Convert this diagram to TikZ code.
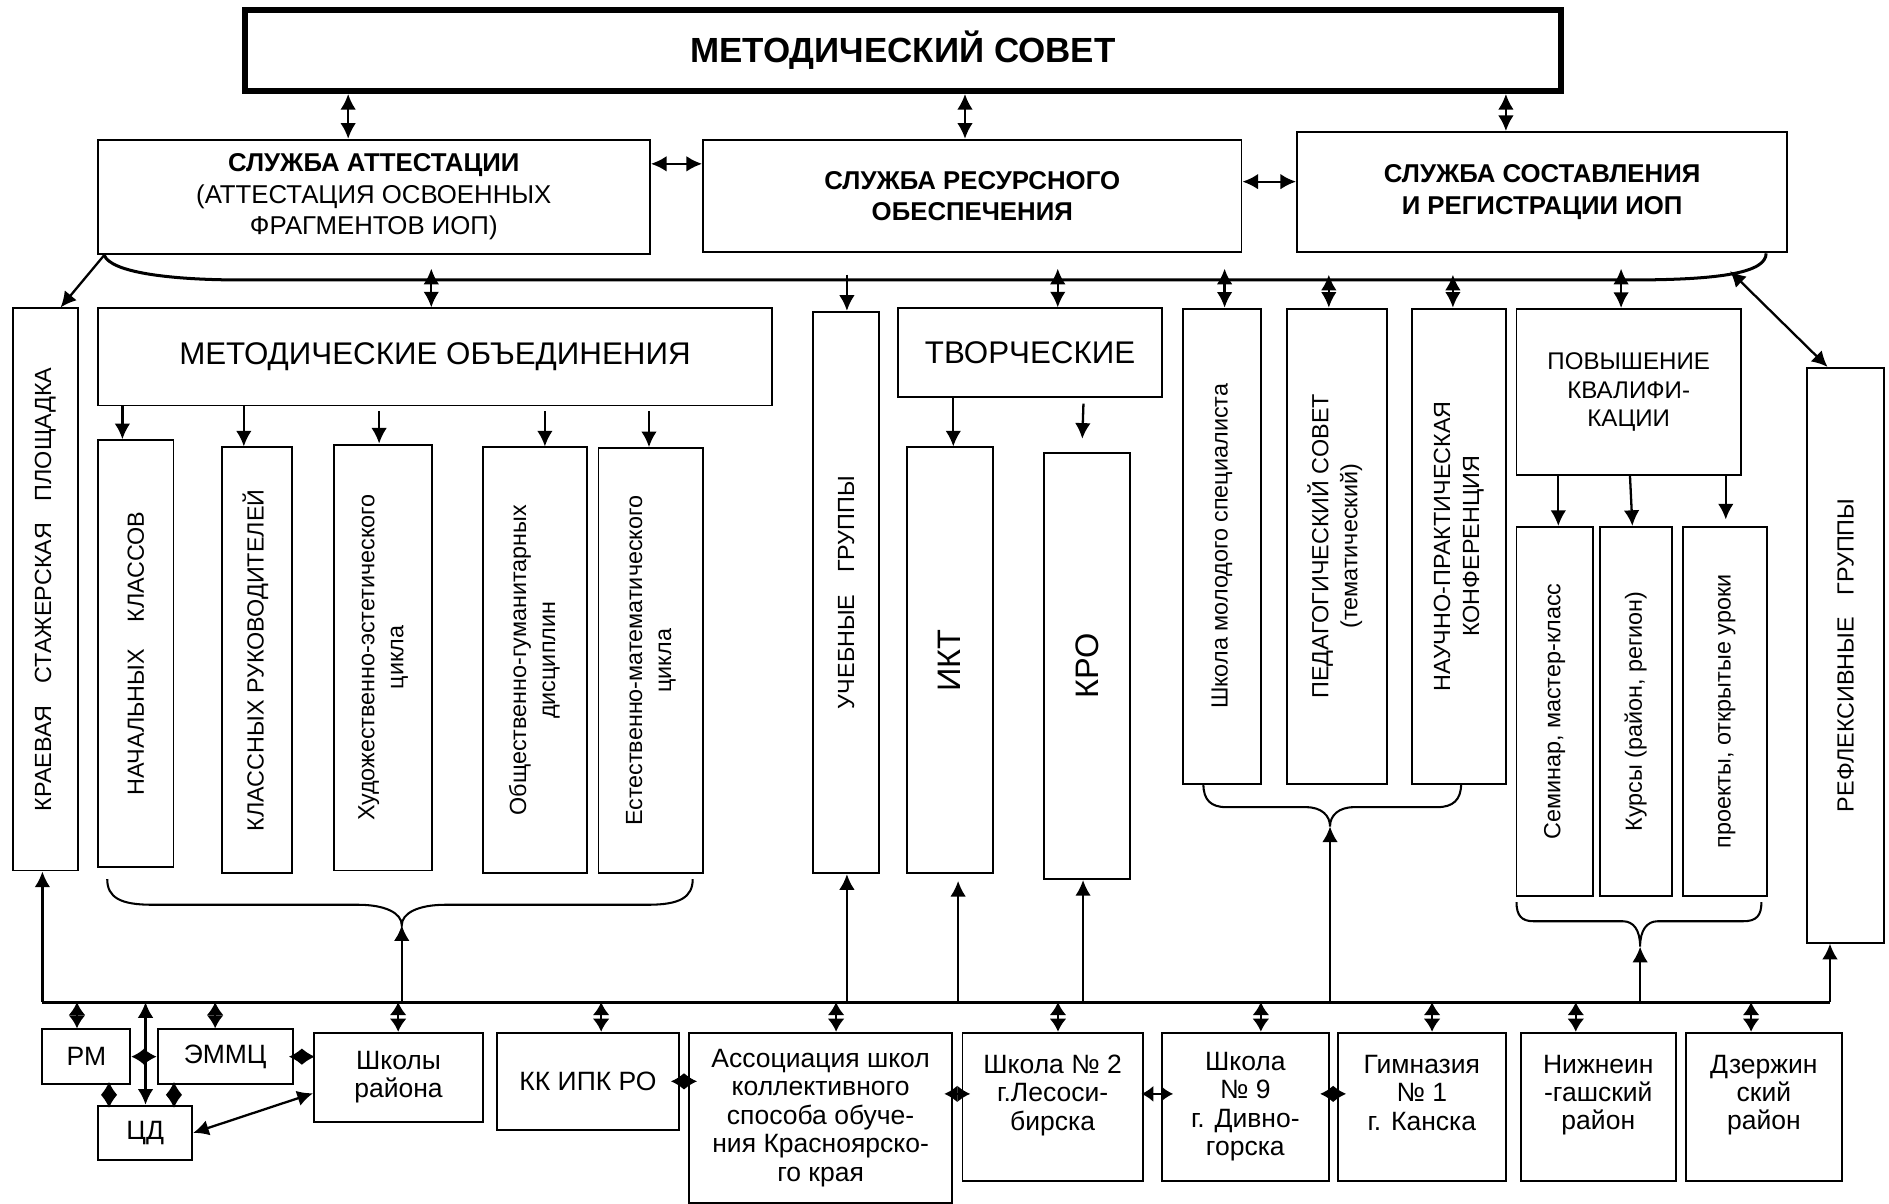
\documentclass[tikz,border=0pt]{standalone}
\usepackage{fontspec}
\setmainfont{Liberation Sans}
\usetikzlibrary{arrows.meta,calc}
\newcommand\fTitle{\fontsize{14.5}{17}\selectfont\bfseries}
\newcommand\fSvc{\fontsize{10.7}{13.1}\selectfont}
\newcommand\fBig{\fontsize{13}{15}\selectfont}
\newcommand\fV{\fontsize{9.7}{12}\selectfont}
\newcommand\fPov{\fontsize{10}{11.8}\selectfont}
\newcommand\fBot{\fontsize{11}{11.8}\selectfont}
\newcommand\fIK{\fontsize{13.5}{15}\selectfont}
\newcommand\vtext[1]{\rotatebox{90}{\fV\begin{tabular}{@{}c@{}}#1\end{tabular}}}
% \BX{options}{name}{x1}{y1}{x2}{y2}{text}
\newcommand\BX[7]{%
  \pgfmathsetmacro\bxw{(#5-#3)*0.5}%
  \pgfmathsetmacro\bxh{(#6-#4)*0.5}%
  \node[box,#1,minimum width=\bxw pt,minimum height=\bxh pt] (#2) at ({(#3+#5)/2},{(#4+#6)/2}) {#7};}
\begin{document}
\begin{tikzpicture}[x=0.5pt,y=-0.5pt,
  box/.style={draw,line width=0.8pt,inner sep=0pt,anchor=center},
  arr/.style={-{Latex[length=6.5pt,width=6.5pt]},line width=0.95pt},
  dbl/.style={{Latex[length=6.5pt,width=6.5pt]}-{Latex[length=6.5pt,width=6.5pt]},line width=0.95pt},
  dia/.style={{Latex[length=5.4pt,width=7pt]}-{Latex[length=5.4pt,width=7pt]},line width=0.95pt},
  sdbl/.style={{Latex[length=5pt,width=6.8pt]}-{Latex[length=5pt,width=6.8pt]},line width=0.95pt},
  bus/.style={line width=1.25pt},
  brace/.style={line width=0.85pt}]
\fill[white] (0,0) rectangle (1568,999);
\useasboundingbox (0,0) rectangle (1568,999);

% ---------- top ----------
\BX{line width=2.5pt,font=\fTitle}{ms}{203}{8}{1296}{75.5}{МЕТОДИЧЕСКИЙ СОВЕТ}
\BX{font=\fSvc,align=center}{s1}{81}{116}{539.5}{211}
  {\textbf{СЛУЖБА АТТЕСТАЦИИ}\\(АТТЕСТАЦИЯ ОСВОЕННЫХ\\ФРАГМЕНТОВ ИОП)}
\BX{font=\fSvc\bfseries,align=center}{s2}{583.6}{116}{1030.5}{209.5}
  {СЛУЖБА РЕСУРСНОГО\\ОБЕСПЕЧЕНИЯ}
\BX{font=\fSvc\bfseries,align=center}{s3}{1076.6}{109.6}{1483.5}{209.5}
  {СЛУЖБА СОСТАВЛЕНИЯ\\И РЕГИСТРАЦИИ ИОП}

\draw[dbl] (ms.south -| 289,0) -- (s1.north -| 289,0);
\draw[dbl] (ms.south -| 801,0) -- (s2.north -| 801,0);
\draw[dbl] (ms.south -| 1250,0) -- (s3.north -| 1250,0);
\draw[dbl] (s1.east |- 0,136) -- (s2.west |- 0,136);
\draw[dbl] (s2.east |- 0,150.8) -- (s3.west |- 0,150.8);

% ---------- second row ----------
\BX{}{kr}{10.6}{256}{64.4}{722.6}
  {\rotatebox{90}{\fV КРАЕВАЯ\hspace{9pt}СТАЖЕРСКАЯ\hspace{9pt}ПЛОЩАДКА}}
\BX{font=\fBig}{mo}{81.3}{256}{640.8}{336.6}{МЕТОДИЧЕСКИЕ ОБЪЕДИНЕНИЯ}
\BX{}{nach}{81.3}{365.4}{144}{719.3}
  {\rotatebox{90}{\fV НАЧАЛЬНЫХ\hspace{11pt}КЛАССОВ}}
\BX{}{klr}{184.6}{371.4}{242.7}{724.7}{\vtext{КЛАССНЫХ РУКОВОДИТЕЛЕЙ}}
\BX{}{hud}{277.4}{369}{358.7}{722.6}{\vtext{Художественно-эстетического\\цикла}}
\BX{}{obsh}{401}{371.4}{487}{724.7}{\vtext{Общественно-гуманитарных\\дисциплин}}
\BX{}{est}{496.8}{372}{583.6}{724.9}{\vtext{Естественно-математического\\цикла}}
\BX{}{uch}{675}{258.8}{729.6}{724.8}
  {\rotatebox{90}{\fV УЧЕБНЫЕ\hspace{9pt}ГРУППЫ}}
\BX{font=\fBig}{tv}{745.3}{256}{964.7}{329.4}{ТВОРЧЕСКИЕ}
\BX{}{ikt}{752.7}{371.4}{823.9}{724.8}{\rotatebox{90}{\fIK ИКТ}}
\BX{}{kro}{866.9}{376}{938}{729.7}{\rotatebox{90}{\fIK КРО}}
\BX{}{sms}{981.7}{256.2}{1046.7}{650.8}{\vtext{Школа молодого специалиста}}
\BX{}{ped}{1068}{256.2}{1151}{650.8}{\vtext{ПЕДАГОГИЧЕСКИЙ СОВЕТ\\(тематический)}}
\BX{}{npk}{1171.8}{256.2}{1250}{650.8}{\vtext{НАУЧНО-ПРАКТИЧЕСКАЯ\\КОНФЕРЕНЦИЯ}}
\BX{font=\fPov,align=center}{pov}{1258.8}{256.5}{1445}{394.4}
  {ПОВЫШЕНИЕ\\КВАЛИФИ-\\КАЦИИ}
\BX{}{sem}{1258.8}{437.4}{1322.1}{743.8}{\vtext{Семинар, мастер-класс}}
\BX{}{kur}{1328.1}{437.4}{1388}{743.8}{\vtext{Курсы (район, регион)}}
\BX{}{prj}{1397}{437.4}{1466.5}{743.8}{\vtext{проекты, открытые уроки}}
\BX{}{refl}{1499.7}{305.4}{1564.2}{782.5}
  {\rotatebox{90}{\fV РЕФЛЕКСИВНЫЕ\hspace{9pt}ГРУППЫ}}

% upper bus
\coordinate (cA) at (s1.south -| 86.5,0);
\coordinate (cB) at (s3.south -| 1466,0);
\draw[bus] (cA) .. controls (92,226) and (140,232.4) .. (201,232.4) -- (1353,232.4)
  .. controls (1430,232.4) and (1466,226) .. (cB);
\draw[arr] (cA) -- (kr.north -| 50.3,0);
\coordinate (rc) at (1436,225);
\draw[dbl] (rc) -- (refl.north -| 1517,0);
\coordinate (t1) at (358,223);
\coordinate (t2) at (703,228);
\coordinate (t3) at (878,223);
\coordinate (t4) at (1016.5,223);
\coordinate (t5) at (1103,228);
\coordinate (t6) at (1206,228);
\coordinate (t7) at (1345.6,223);
\draw[dbl] (t1) -- (mo.north -| t1);
\draw[arr] (t2) -- (uch.north -| t2);
\draw[dbl] (t3) -- (tv.north -| t3);
\draw[dbl] (t4) -- (sms.north -| t4);
\draw[dbl] (t5) -- (ped.north -| t5);
\draw[dbl] (t6) -- (npk.north -| t6);
\draw[dbl] (t7) -- (pov.north -| t7);

% MO sub-arrows
\draw[arr] (mo.south -| 101.6,0) -- (nach.north -| 101.6,0);
\draw[arr] (mo.south -| 202.4,0) -- (klr.north -| 202.4,0);
\draw[arr,shorten <=2pt] (mo.south -| 314.7,0) -- (hud.north -| 314.7,0);
\draw[arr,shorten <=2pt] (mo.south -| 452.3,0) -- (obsh.north -| 452.3,0);
\draw[arr,shorten <=2pt] (mo.south -| 538.7,0) -- (est.north -| 538.7,0);
% творческие
\draw[arr] (tv.south -| 791.3,0) -- (ikt.north -| 791.3,0);
\draw[arr,shorten <=2.4pt,shorten >=5.5pt] (tv.south -| 899.5,0) -- (kro.north -| 898,0);
% повышение
\draw[arr] (pov.south -| 1293.5,0) -- (sem.north -| 1293.5,0);
\draw[arr] (pov.south -| 1353,0) -- (kur.north -| 1355,0);
\draw[arr,shorten >=2.7pt] (pov.south -| 1432.5,0) -- (prj.north -| 1432.5,0);

% braces
\coordinate (mbt) at (333.5,768);
\coordinate (pbt) at (1104,686);
\coordinate (vbt) at (1361.4,785.8);
\draw[brace] (89,729.7) .. controls (89,745) and (100,751) .. (126,751) -- (297,751)
  .. controls (320,751) and (333.5,758) .. (mbt)
  .. controls (333.5,758) and (347,751) .. (370,751) -- (538,751)
  .. controls (564,751) and (575,745) .. (575,729.7);
\draw[brace] (998.9,650.8) .. controls (998.9,664) and (1005,670) .. (1018,670) -- (1084,670)
  .. controls (1097,670) and (1104,677) .. (pbt)
  .. controls (1104,677) and (1111,670) .. (1124,670) -- (1193,670)
  .. controls (1206,670) and (1212.8,664) .. (1212.8,650.8);
\draw[brace] (1258.8,748.8) .. controls (1258.8,760) and (1263,764.7) .. (1273,764.7) -- (1347,764.7)
  .. controls (1356,764.7) and (1361.4,772) .. (vbt)
  .. controls (1361.4,772) and (1367,764.7) .. (1376,764.7) -- (1447,764.7)
  .. controls (1458,764.7) and (1462.1,760) .. (1462.1,748.8);

% lower bus
\coordinate (bL) at (35.2,831.8);
\coordinate (bR) at (1519,831.8);
\draw[bus] (bL) -- (bR);
\draw[arr] (bL) -- (kr.south -| bL);
\draw[arr] (bR) -- (refl.south -| bR);
\draw[arr] (mbt |- bL) -- (mbt);
\draw[arr] (bL -| 703,0) -- (uch.south -| 703,0);
\draw[arr,shorten >=2.8pt] (bL -| 795.3,0) -- (ikt.south -| 795.3,0);
\draw[arr] (bL -| 899,0) -- (kro.south -| 899,0);
\draw[arr] (pbt |- bL) -- (pbt);
\draw[arr] (vbt |- bL) -- (vbt);

% ---------- bottom row ----------
\BX{font=\fBot}{rm}{35.2}{854.4}{108.2}{899.8}{РМ}
\BX{font=\fBot}{emmc}{130.8}{854.4}{243}{899.8}{ЭММЦ}
\BX{font=\fBot}{cd}{81.5}{917.8}{159.5}{963}{ЦД}
\BX{font=\fBot,align=center}{shr}{260.6}{857.2}{401}{931}{Школы\\района}
\BX{font=\fBot}{kk}{412.5}{857.2}{563.5}{938}{КК ИПК РО}
\BX{font=\fBot,align=center}{asc}{572}{857.2}{790.3}{998.6}
  {Ассоциация школ\\коллективного\\способа обуче-\\ния Красноярско-\\го края}
\BX{font=\fBot,align=center}{sh2}{798.9}{857.2}{948.6}{980}
  {Школа № 2\\г.Лесоси-\\бирска\\\mbox{}}
\BX{font=\fBot,align=center}{sh9}{964.6}{857.2}{1102.8}{980}
  {Школа\\№ 9\\г. Дивно-\\горска}
\BX{font=\fBot,align=center}{gym}{1110.4}{857.2}{1250}{980}
  {Гимназия\\№ 1\\г. Канска\\\mbox{}}
\BX{font=\fBot,align=center}{nizh}{1262.6}{857.2}{1390.8}{980}
  {Нижнеин\\-гашский\\район\\\mbox{}}
\BX{font=\fBot,align=center}{dz}{1399.3}{857.2}{1529}{980}
  {Дзержин\\ский\\район\\\mbox{}}

% bus to bottom boxes
\draw[dia] (bL -| 63.9,0) -- (rm.north -| 63.9,0);
\draw[dbl] (bL -| 120.8,0) -- (cd.north -| 120.8,0);
\draw[dia] (bL -| 178.6,0) -- (emmc.north -| 178.6,0);
\draw[dia] (bL -| 330.5,0) -- (shr.north -| 330.5,0);
\draw[dia] (bL -| 499,0) -- (kk.north -| 499,0);
\draw[dia] (bL -| 694,0) -- (asc.north -| 694,0);
\draw[dia] (bL -| 878.2,0) -- (sh2.north -| 878.2,0);
\draw[dia] (bL -| 1046.6,0) -- (sh9.north -| 1046.6,0);
\draw[dia] (bL -| 1188.7,0) -- (gym.north -| 1188.7,0);
\draw[dia] (bL -| 1308,0) -- (nizh.north -| 1308,0);
\draw[dia] (bL -| 1453.5,0) -- (dz.north -| 1453.5,0);

% among bottom boxes
\draw[dia] (rm.east) -- (emmc.west);
\draw[dia,shorten <=-2pt,shorten >=-0.8pt] (emmc.east) -- (emmc.east -| shr.west);
\draw[dia,shorten <=-1.3pt,shorten >=-1.3pt] (rm.south -| 90.5,0) -- (cd.north -| 90.5,0);
\draw[dia,shorten <=-1.3pt,shorten >=-1.3pt] (emmc.south -| 144.4,0) -- (cd.north -| 144.4,0);
\draw[dbl] (cd.east) -- (shr.west |- 0,907.5);
\draw[dia,shorten <=-3.7pt,shorten >=-3.7pt] (kk.east) -- (kk.east -| asc.west);
\draw[dia,shorten <=-3.65pt,shorten >=-3.65pt] (asc.east |- 0,908) -- (sh2.west |- 0,908);
\draw[sdbl,shorten <=-1pt,shorten >=-5pt] (sh2.east |- 0,908) -- (sh9.west |- 0,908);
\draw[dia,shorten <=-3.9pt,shorten >=-3.9pt] (sh9.east |- 0,908) -- (gym.west |- 0,908);
\end{tikzpicture}
\end{document}
